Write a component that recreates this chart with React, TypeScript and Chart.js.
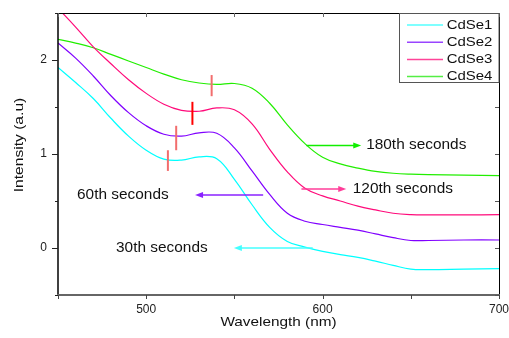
import { useEffect, useRef } from 'react';
import { Chart, registerables } from 'chart.js';
Chart.register(...registerables);

const wavelengths = [450, 460, 470, 480, 490, 500, 510, 520, 530, 540, 550, 560, 570, 580, 590, 600, 610, 620, 630, 640, 650, 660, 680, 700];
const cdse1 = [1.92, 1.76, 1.59, 1.38, 1.19, 1.04, 0.945, 0.935, 0.97, 0.95, 0.73, 0.46, 0.22, 0.07, 0.01, -0.035, -0.07, -0.1, -0.14, -0.185, -0.225, -0.23, -0.225, -0.22];
const cdse2 = [2.18, 2.02, 1.83, 1.62, 1.44, 1.3, 1.21, 1.19, 1.225, 1.22, 1.065, 0.82, 0.57, 0.37, 0.285, 0.25, 0.22, 0.19, 0.15, 0.11, 0.08, 0.08, 0.085, 0.085];
const cdse3 = [2.55, 2.35, 2.14, 1.96, 1.79, 1.645, 1.53, 1.465, 1.455, 1.49, 1.47, 1.32, 1.05, 0.81, 0.635, 0.555, 0.5, 0.445, 0.405, 0.37, 0.355, 0.352, 0.352, 0.355];
const cdse4 = [2.22, 2.18, 2.13, 2.06, 1.99, 1.92, 1.85, 1.79, 1.755, 1.74, 1.75, 1.7, 1.54, 1.31, 1.11, 0.965, 0.895, 0.85, 0.815, 0.795, 0.785, 0.78, 0.775, 0.77];
const seriesNames = ['CdSe1', 'CdSe2', 'CdSe3', 'CdSe4'];
const seriesColors = ['#00ffff', '#8000ff', '#ff0a7a', '#22ee00'];
const legendColors = ['#55ffff', '#9944ff', '#ff4499', '#55ee44'];

const xTickLabels = [500, 600, 700];
const yTickLabels = [0, 1, 2];

const markerWavelengths = [512.3, 517, 526.2, 537.1];
const markerLow = [0.82, 1.04, 1.31, 1.615];
const markerHigh = [1.04, 1.3, 1.555, 1.84];
const markerColors = ['#f26d6d', '#f26d6d', '#ff0000', '#f26d6d'];

const arrowLabels = ['180th seconds', '120th seconds', '60th seconds', '30th seconds'];
const arrowFrom = [590.8, 588.0, 566.3, 594.4];
const arrowTo = [621.9, 613.4, 527.7, 549.7];
const arrowY = [1.09, 0.628, 0.564, 0.0];
const labelX = [624.7, 617.1, 460.8, 482.9];
const arrowColors = ['#11ee00', '#ff3d99', '#8a22ff', '#44ffff'];

const FONT = '"Liberation Sans", Arial, sans-serif';

function drawText(ctx: CanvasRenderingContext2D, text: string, x: number, y: number, size: number, sx: number, align: CanvasTextAlign = 'left', rot = 0) {
  ctx.save();
  ctx.translate(x, y);
  if (rot) ctx.rotate(rot);
  ctx.scale(sx, 1);
  ctx.font = `${size}px ${FONT}`;
  ctx.textAlign = align;
  ctx.textBaseline = 'middle';
  ctx.fillStyle = '#111';
  ctx.fillText(text, 0, 0);
  ctx.restore();
}

const decorPlugin = {
  id: 'decor',
  afterDraw(chart: any) {
    const ctx: CanvasRenderingContext2D = chart.ctx;
    const { left, right, top, bottom } = chart.chartArea;
    const xs = chart.scales.x;
    const ys = chart.scales.y;
    ctx.save();
    // markers
    markerWavelengths.forEach((w, i) => {
      const px = xs.getPixelForValue(w);
      ctx.strokeStyle = markerColors[i];
      ctx.lineWidth = 2;
      ctx.beginPath();
      ctx.moveTo(px, ys.getPixelForValue(markerLow[i]));
      ctx.lineTo(px, ys.getPixelForValue(markerHigh[i]));
      ctx.stroke();
    });
    // arrows
    arrowLabels.forEach((label, i) => {
      const x0 = xs.getPixelForValue(arrowFrom[i]);
      const x1 = xs.getPixelForValue(arrowTo[i]);
      const y = ys.getPixelForValue(arrowY[i]);
      const dir = x1 > x0 ? 1 : -1;
      ctx.strokeStyle = arrowColors[i];
      ctx.fillStyle = arrowColors[i];
      ctx.lineWidth = 1.5;
      ctx.beginPath();
      ctx.moveTo(x0, y);
      ctx.lineTo(x1 - dir * 6, y);
      ctx.stroke();
      ctx.beginPath();
      ctx.moveTo(x1, y);
      ctx.lineTo(x1 - dir * 8, y - 3);
      ctx.lineTo(x1 - dir * 8, y + 3);
      ctx.closePath();
      ctx.fill();
      drawText(ctx, label, xs.getPixelForValue(labelX[i]), y, 14, 1.1, 'left');
    });
    // frame
    ctx.strokeStyle = '#000';
    ctx.lineWidth = 1;
    ctx.beginPath();
    ctx.moveTo(left, top + 0.5);
    ctx.lineTo(right + 0.5, top + 0.5);
    ctx.lineTo(right + 0.5, bottom);
    ctx.stroke();
    ctx.lineWidth = 1.5;
    ctx.beginPath();
    ctx.moveTo(left, top);
    ctx.lineTo(left, bottom);
    ctx.stroke();
    ctx.strokeStyle = '#666';
    ctx.lineWidth = 2;
    ctx.beginPath();
    ctx.moveTo(left - 1, bottom);
    ctx.lineTo(right + 1, bottom);
    ctx.stroke();
    // ticks
    ctx.lineWidth = 1;
    for (let v = -0.5; v <= 2.5001; v += 0.5) {
      const py = Math.round(ys.getPixelForValue(v)) + 0.5;
      const major = Math.abs(v - Math.round(v)) < 1e-6;
      ctx.strokeStyle = '#222';
      ctx.beginPath();
      ctx.moveTo(left - (major ? 6 : 3), py);
      ctx.lineTo(left, py);
      ctx.stroke();
      ctx.strokeStyle = '#555';
      ctx.beginPath();
      ctx.moveTo(right, py);
      ctx.lineTo(right - 4, py);
      ctx.stroke();
    }
    for (let v = 450; v <= 700; v += 50) {
      const px = Math.round(xs.getPixelForValue(v)) + 0.5;
      ctx.strokeStyle = '#444';
      ctx.beginPath();
      ctx.moveTo(px, bottom);
      ctx.lineTo(px, bottom + 4);
      ctx.stroke();
      ctx.strokeStyle = '#666';
      ctx.beginPath();
      ctx.moveTo(px, top);
      ctx.lineTo(px, top + 4);
      ctx.stroke();
    }
    // axis titles
    drawText(ctx, 'Wavelength (nm)', (left + right) / 2, 322.7, 13, 1.18, 'center');
    drawText(ctx, 'Intensity (a.u)', 19, 145, 13, 1.2, 'center', -Math.PI / 2);
    // legend
    ctx.fillStyle = '#fff';
    ctx.fillRect(399.5, 13.5, 99.5, 69);
    ctx.strokeStyle = '#555';
    ctx.lineWidth = 1;
    ctx.strokeRect(399.5, 13.5, 99.5, 69);
    seriesNames.forEach((n, i) => {
      const ry = 25 + i * 17.2;
      ctx.strokeStyle = legendColors[i];
      ctx.lineWidth = 1.5;
      ctx.beginPath();
      ctx.moveTo(407, ry);
      ctx.lineTo(443, ry);
      ctx.stroke();
      drawText(ctx, n, 446.7, ry, 13, 1.15, 'left');
    });
    ctx.restore();
  },
};

export default function App() {
  const ref = useRef<HTMLCanvasElement | null>(null);
  useEffect(() => {
    document.body.style.margin = '0';
    const canvas = ref.current;
    if (!canvas) return;
    const series = [cdse1, cdse2, cdse3, cdse4];
    const chart = new Chart(canvas, {
      type: 'line',
      data: {
        datasets: seriesNames.map((name, i) => ({
          label: name,
          data: wavelengths.map((x, j) => ({ x, y: series[i][j] })),
          borderColor: seriesColors[i],
          borderWidth: 1.2,
          pointRadius: 0,
          fill: false,
          tension: 0.4,
        })),
      },
      options: {
        responsive: false,
        animation: false,
        events: [],
        layout: { padding: { top: 13, right: 10, left: 0, bottom: 0 }, autoPadding: false },
        plugins: { legend: { display: false }, tooltip: { enabled: false } },
        scales: {
          x: {
            type: 'linear',
            min: 450,
            max: 700,
            ticks: {
              stepSize: 50,
              autoSkip: false,
              maxRotation: 0,
              padding: 7,
              color: '#222',
              font: { family: FONT, size: 12 },
              callback: (v: any) => (xTickLabels.includes(Number(v)) ? String(v) : ''),
            },
            grid: { display: false, drawTicks: false, tickLength: 0 },
            border: { display: false },
            afterFit: (s: any) => {
              s.height = 43;
              s.paddingLeft = 0;
              s.paddingRight = 0;
              s.paddingTop = 0;
              s.paddingBottom = 0;
            },
          },
          y: {
            type: 'linear',
            min: -0.5,
            max: 2.5,
            ticks: {
              stepSize: 0.5,
              autoSkip: false,
              padding: 11,
              color: '#222',
              font: { family: FONT, size: 12 },
              callback: (v: any) => (yTickLabels.includes(Number(v)) ? String(v) : ''),
            },
            grid: { display: false, drawTicks: false, tickLength: 0 },
            border: { display: false },
            afterFit: (s: any) => {
              s.width = 58;
              s.paddingLeft = 0;
              s.paddingRight = 0;
              s.paddingTop = 0;
              s.paddingBottom = 0;
            },
          },
        },
      },
      plugins: [decorPlugin],
    });
    return () => chart.destroy();
  }, []);
  return <canvas ref={ref} width={509} height={338} style={{ display: 'block' }} />;
}
